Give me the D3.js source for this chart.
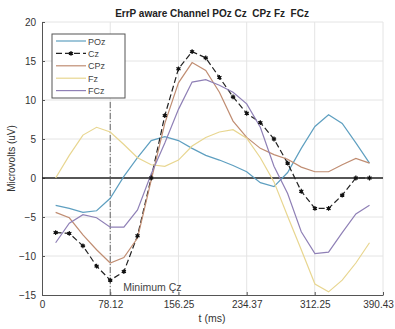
<!DOCTYPE html>
<html>
<head>
<meta charset="utf-8">
<script src="https://cdn.jsdelivr.net/npm/d3@7"></script>
<style>
  body { margin: 0; background: #fff; }
  text { font-family: "Liberation Sans", Arial, sans-serif; }
</style>
</head>
<body>
<div class="canva"></div>
<script>
// sample times (ms)
const times = [15.62, 31.25, 46.87, 62.50, 78.12, 93.74, 109.37, 124.99, 140.62, 156.24, 171.86, 187.49,
               203.11, 218.74, 234.36, 249.98, 265.61, 281.23, 296.86, 312.48, 328.10, 343.73, 359.35, 374.98];

// channel values (uV)
const POz = [-3.5, -3.9, -4.4, -4.2, -2.6, 0.2, 2.6, 4.8, 5.3, 4.8, 3.8, 2.9,
             2.3, 1.6, 0.8, -0.6, -1.1, 0.7, 3.8, 6.6, 8.1, 7.0, 4.5, 1.9];
const Cz  = [-7.0, -7.1, -8.7, -11.3, -13.1, -12.0, -7.4, 0.0, 8.0, 14.0, 16.2, 15.4,
             12.9, 10.4, 8.3, 7.1, 5.0, 1.9, -1.7, -3.9, -3.9, -2.2, 0.0, 0.0];
const CPz = [-4.4, -5.1, -7.3, -9.2, -10.9, -10.2, -7.7, -0.3, 7.0, 12.2, 14.8, 13.8,
             11.0, 7.3, 5.2, 3.8, 3.0, 2.4, 1.4, 0.8, 0.8, 1.7, 2.5, 1.9];
const Fz  = [0.0, 2.9, 5.5, 6.5, 5.9, 4.3, 2.6, 1.7, 1.5, 2.3, 4.1, 5.2,
             5.9, 6.2, 5.1, 2.6, -0.5, -4.9, -9.2, -13.6, -14.6, -13.1, -10.9, -8.3];
const FCz = [-8.3, -5.8, -4.7, -5.1, -6.3, -6.3, -4.1, 0.5, 4.5, 8.8, 12.3, 12.6,
             11.9, 11.0, 9.5, 6.5, 1.5, -2.0, -6.9, -9.7, -9.5, -7.0, -4.6, -3.5];

const seriesNames = ['POz', 'Cz', 'CPz', 'Fz', 'FCz'];
const seriesColors = ['#5e9fc0', '#222222', '#c08d72', '#e8d690', '#8f80b6'];
const xTicks = [0, 78.12, 156.25, 234.37, 312.25, 390.43];
const yTicks = [-15, -10, -5, 0, 5, 10, 15, 20];
const minTime = 78.12;

const W = 395, H = 329;
const margin = { top: 22, right: 12, bottom: 34, left: 42 };

const svg = d3.select('.canva').append('svg')
              .attr('width', W)
              .attr('height', H);

const x = d3.scaleLinear().domain([0, 390.43]).range([margin.left, W - margin.right]);
const y = d3.scaleLinear().domain([-15, 20]).range([H - margin.bottom, margin.top]);

// grid
svg.append('g').selectAll('line').data(xTicks.slice(1)).enter().append('line')
   .attr('x1', d => x(d)).attr('x2', d => x(d))
   .attr('y1', y(-15)).attr('y2', y(20))
   .attr('stroke', '#e4e4e4').attr('stroke-width', 1);
svg.append('g').selectAll('line').data(yTicks.slice(1)).enter().append('line')
   .attr('x1', x(0)).attr('x2', x(390.43))
   .attr('y1', d => y(d)).attr('y2', d => y(d))
   .attr('stroke', '#e4e4e4').attr('stroke-width', 1);

// axes
const xAxis = svg.append('g')
   .attr('transform', `translate(0,${y(-15)})`)
   .call(d3.axisBottom(x).tickValues(xTicks).tickFormat(d => d === 0 ? '0' : d3.format('.2f')(d)).tickSizeInner(-3).tickSizeOuter(0).tickPadding(6));
const yAxis = svg.append('g')
   .attr('transform', `translate(${x(0)},0)`)
   .call(d3.axisLeft(y).tickValues(yTicks).tickSizeInner(-3).tickSizeOuter(0).tickPadding(6));
[xAxis, yAxis].forEach(a => {
  a.select('.domain').attr('stroke', '#555');
  a.selectAll('.tick line').attr('stroke', '#555');
  a.selectAll('.tick text').attr('fill', '#333').style('font-size', '10px');
});
// keep the last x label inside the picture
xAxis.selectAll('.tick text').filter(d => d === 390.43).attr('dx', -5);

// zero line
svg.append('line')
   .attr('x1', x(0)).attr('x2', x(390.43))
   .attr('y1', y(0)).attr('y2', y(0))
   .attr('stroke', '#222').attr('stroke-width', 1.5);

// marker of minimum
svg.append('line')
   .attr('x1', x(minTime)).attr('x2', x(minTime))
   .attr('y1', y(-15)).attr('y2', y(10))
   .attr('stroke', '#666').attr('stroke-width', 1)
   .attr('stroke-dasharray', '6,2,1,2');

const line = d3.line().x((d, i) => x(times[i])).y(d => y(d));
const allSeries = [POz, Cz, CPz, Fz, FCz];

allSeries.forEach((s, j) => {
  svg.append('path')
     .datum(s)
     .attr('d', line)
     .attr('fill', 'none')
     .attr('stroke', seriesColors[j])
     .attr('stroke-width', 1.2)
     .attr('stroke-dasharray', seriesNames[j] === 'Cz' ? '6,3' : null);
});

// Cz markers
const star = d3.symbol().type(d3.symbolAsterisk).size(16);
svg.append('g').selectAll('path').data(Cz).enter().append('path')
   .attr('d', star)
   .attr('transform', (d, i) => `translate(${x(times[i])},${y(d)})`)
   .attr('fill', 'none').attr('stroke', '#111').attr('stroke-width', 1.2);
svg.append('g').selectAll('circle').data(Cz).enter().append('circle')
   .attr('cx', (d, i) => x(times[i])).attr('cy', d => y(d)).attr('r', 1.5)
   .attr('fill', '#111');

svg.append('text')
   .attr('x', x(minTime) + 13).attr('y', y(-15) - 4)
   .attr('fill', '#444').style('font-size', '10.5px')
   .text('Minimum Çz');

// legend
const lg = svg.append('g').attr('transform', 'translate(52,34)');
lg.append('rect').attr('width', 73).attr('height', 64)
  .attr('fill', '#fff').attr('stroke', '#555').attr('stroke-width', 1);
seriesNames.forEach((n, j) => {
  const yy = 7 + j * 12.4;
  lg.append('line').attr('x1', 4).attr('x2', 34).attr('y1', yy).attr('y2', yy)
    .attr('stroke', seriesColors[j]).attr('stroke-width', 1.2)
    .attr('stroke-dasharray', n === 'Cz' ? '6,3' : null);
  if (n === 'Cz') {
    lg.append('circle').attr('cx', 19).attr('cy', yy).attr('r', 1.5).attr('fill', '#111');
    lg.append('path').attr('d', star).attr('transform', `translate(19,${yy})`)
      .attr('fill', 'none').attr('stroke', '#111').attr('stroke-width', 1.2);
  }
  lg.append('text').attr('x', 36).attr('y', yy + 3.5)
    .attr('fill', '#444').style('font-size', '9px').text(n);
});

// titles
svg.append('text')
   .attr('x', 212).attr('y', 17)
   .attr('text-anchor', 'middle')
   .style('font-size', '10px').style('font-weight', 'bold').style('white-space', 'pre')
   .attr('fill', '#222')
   .text('ErrP aware Channel POz Cz  CPz Fz  FCz');
svg.append('text')
   .attr('x', 212).attr('y', 322)
   .attr('text-anchor', 'middle')
   .style('font-size', '10.5px').attr('fill', '#333')
   .text('t (ms)');
svg.append('text')
   .attr('transform', `translate(15,${y(2.5)}) rotate(-90)`)
   .attr('text-anchor', 'middle')
   .style('font-size', '10px').attr('fill', '#333')
   .text('Microvolts (uV)');
</script>
</body>
</html>
